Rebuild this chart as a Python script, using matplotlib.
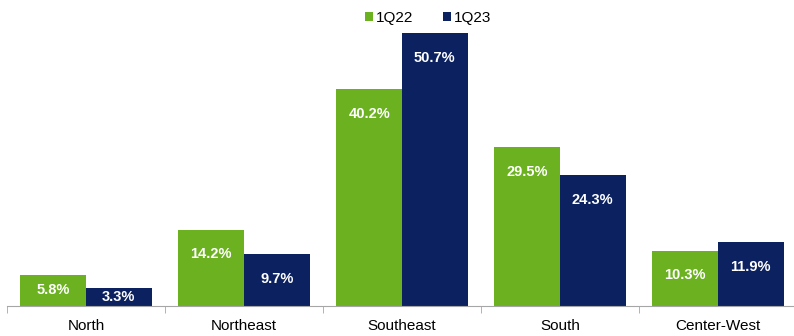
import matplotlib.pyplot as plt
import numpy as np

regions = ['North', 'Northeast', 'Southeast', 'South', 'Center-West']
share_1q22 = [5.8, 14.2, 40.2, 29.5, 10.3]
share_1q23 = [3.3, 9.7, 50.7, 24.3, 11.9]

green = '#6BB120'
navy = '#0B2160'

fig = plt.figure(figsize=(7.94, 3.36), dpi=100)
ax = fig.add_axes([7 / 794, 30 / 336, 790 / 794, 306 / 336])

x = np.arange(len(regions))
w = 0.415
ax.bar(x - w / 2, share_1q22, w, color=green, label='1Q22')
ax.bar(x + w / 2, share_1q23, w, color=navy, label='1Q23')

# value labels inside bars, near the top
for xs, vals in ((x - w / 2, share_1q22), (x + w / 2, share_1q23)):
    for xi, v in zip(xs, vals):
        y = max(v - 4.6, v / 2)
        ax.text(xi, y, f'{v:.1f}%', ha='center', va='center', color='white',
                fontsize=10.5, fontweight='bold', family='Liberation Sans')

ax.set_xlim(-0.5, len(regions) - 0.5)
ax.set_ylim(0, 56.8)

for s in ('top', 'right', 'left'):
    ax.spines[s].set_visible(False)
ax.spines['bottom'].set_color('#A6A6A6')
ax.set_yticks([])
ax.set_xticks(x)
ax.set_xticklabels(regions, fontsize=11, family='Liberation Sans')
ax.tick_params(axis='x', which='major', length=0, pad=9)
ax.set_xticks(np.arange(-0.5, len(regions) - 0.4, 1), minor=True)
ax.tick_params(axis='x', which='minor', length=5, color='#A6A6A6')

leg = ax.legend(loc='upper center', bbox_to_anchor=(0.533, 1.01), ncol=2, frameon=False,
                handlelength=0.55, handleheight=0.55, handletextpad=0.2, columnspacing=1.9,
                prop={'family': 'Liberation Sans', 'size': 11})

fig.savefig('out.png', dpi=100)
